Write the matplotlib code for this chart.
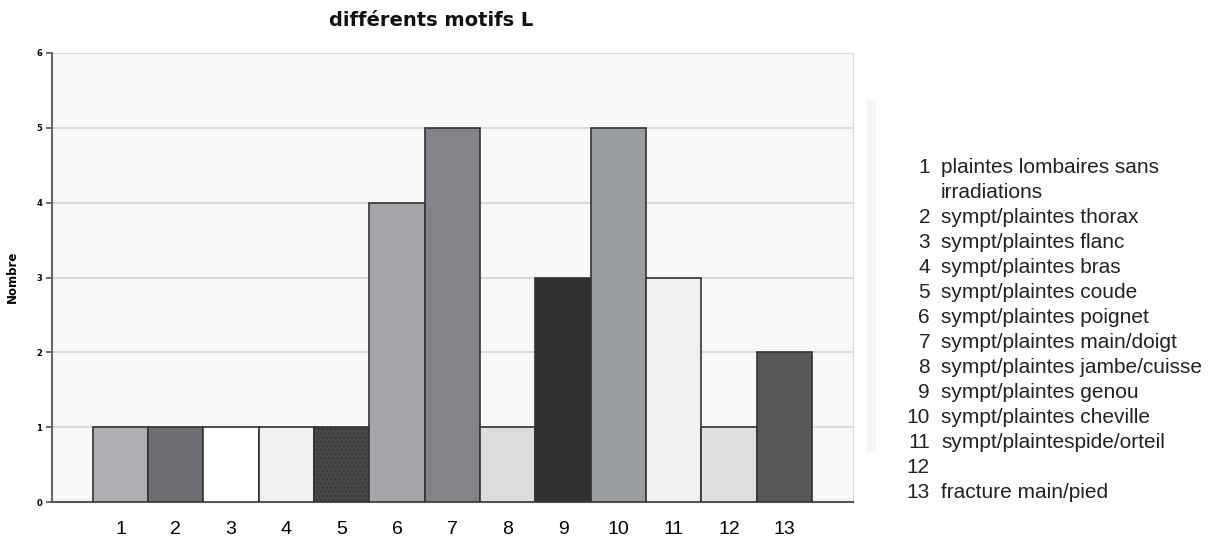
import matplotlib
matplotlib.use("Agg")
import matplotlib.pyplot as plt
from matplotlib.patches import Rectangle

categories = ["1", "2", "3", "4", "5", "6", "7", "8", "9", "10", "11", "12", "13"]
values = [1, 1, 1, 1, 1, 4, 5, 1, 3, 5, 3, 1, 2]
bar_colors = ["#aeafb3", "#6e6f73", "#ffffff", "#f0f0f0", "#474747", "#a5a6aa",
              "#838487", "#dcdcdc", "#323132", "#9a9da0", "#f0f0f0", "#dddedf", "#565759"]
descriptions = [
    "plaintes lombaires sans\nirradiations",
    "sympt/plaintes thorax",
    "sympt/plaintes flanc",
    "sympt/plaintes bras",
    "sympt/plaintes coude",
    "sympt/plaintes poignet",
    "sympt/plaintes main/doigt",
    "sympt/plaintes jambe/cuisse",
    "sympt/plaintes genou",
    "sympt/plaintes cheville",
    "sympt/plaintespide/orteil",
    "",
    "fracture main/pied",
]
yticks = [0, 1, 2, 3, 4, 5, 6]

plt.rcParams["font.family"] = ["Liberation Sans", "DejaVu Sans"]
plt.rcParams["hatch.color"] = "#666666"
plt.rcParams["hatch.linewidth"] = 0.6

fig = plt.figure(figsize=(12.08, 5.38), dpi=100)
ax = fig.add_axes([0.043, 0.0669, 0.663, 0.8346])
ax.set_facecolor("#f8f8f8")

x = list(range(len(values)))
bars = ax.bar(x, values, width=1.0, color=bar_colors, edgecolor="#333333",
              linewidth=1.2, zorder=3)
# dotted texture on the fifth bar
bars[4].set_hatch("....")

ax.set_xlim(-1.24, 13.24)
ax.set_ylim(0, 6)
ax.set_yticks(yticks)
ax.set_yticklabels([str(v) for v in yticks], fontsize=6, fontweight="bold",
                   family="DejaVu Sans")
ax.set_xticks(x)
ax.set_xticklabels(categories, fontsize=14)
ax.tick_params(axis="x", length=0, pad=14)
ax.tick_params(axis="y", length=4, width=1.2, color="#555555", pad=3)

ax.grid(axis="y", color="#d4d4d4", linewidth=1.2, zorder=0)
ax.set_axisbelow(True)

ax.spines["top"].set_visible(False)
ax.spines["right"].set_color("#d8d8d8")
ax.spines["left"].set_color("#666666")
ax.spines["left"].set_linewidth(1.5)
ax.spines["bottom"].set_color("#555555")
ax.spines["bottom"].set_linewidth(1.5)

fig.text(12 / 1208, 1 - 277 / 538, "Nombre", rotation=90, ha="center", va="center",
         fontsize=8.5, fontweight="heavy", family="DejaVu Sans")
fig.text(431 / 1208, 1 - 20 / 538, "différents motifs L", ha="center", va="center",
         fontsize=14, fontweight="bold", family="DejaVu Sans", color="#111111")

# faint panel behind the category list
fig.patches.append(Rectangle((866 / 1208, 1 - 452 / 538), 10 / 1208, 352 / 538,
                             transform=fig.transFigure, facecolor="#f6f6f6",
                             edgecolor="none"))

# numbered list of categories
y = 173
for cat, desc in zip(categories, descriptions):
    fig.text(930 / 1208, 1 - y / 538, cat, ha="right", va="baseline", fontsize=15,
             color="#222222")
    lines = desc.split("\n") if desc else [""]
    for line in lines:
        fig.text(941 / 1208, 1 - y / 538, line, ha="left", va="baseline",
                 fontsize=15, color="#222222")
        y += 25

fig.savefig("out.png", dpi=100)
